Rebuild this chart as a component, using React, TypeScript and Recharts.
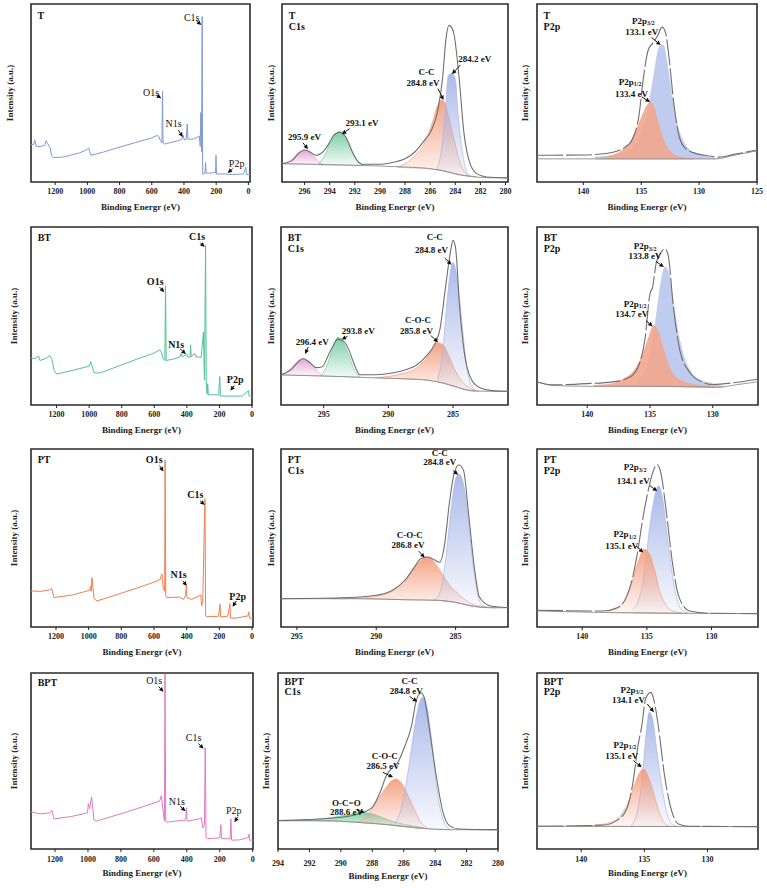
import React from 'react';
import { ComposedChart, Line, Area, XAxis, YAxis, ReferenceArea, ReferenceDot, ReferenceLine } from 'recharts';

type Pt = [number, number];
type Band = [number, number, number]; // binding energy, base, top

const SERIF = '"Liberation Serif", "DejaVu Serif", serif';

// ---------- tick labels ----------
const SURVEY_TICKS = [1200, 1000, 800, 600, 400, 200, 0];
const T_C1S_TICKS = [296, 294, 292, 290, 288, 286, 284, 282, 280];
const C1S_TICKS = [295, 290, 285];
const BPT_C1S_TICKS = [294, 292, 290, 288, 286, 284, 282, 280];
const T_P2P_TICKS = [140, 135, 130, 125];
const P2P_TICKS = [140, 135, 130];

// ---------- survey spectra ----------
const T_SURVEY: Pt[] = [
  [1350, 0.21], [1335, 0.21], [1326, 0.235], [1318, 0.2], [1290, 0.2], [1265, 0.205], [1256, 0.232], [1246, 0.215],
  [1232, 0.195], [1222, 0.15], [1210, 0.137], [1150, 0.14], [1100, 0.152], [1050, 0.163], [1000, 0.183], [992, 0.192],
  [985, 0.17], [978, 0.15], [900, 0.168], [800, 0.196], [700, 0.222], [600, 0.248], [565, 0.262], [556, 0.255],
  [546, 0.232], [537, 0.22], [533, 0.51], [530, 0.22], [522, 0.213], [480, 0.222], [440, 0.232], [415, 0.238],
  [405, 0.262], [398, 0.236], [386, 0.24], [380, 0.325], [375, 0.24], [340, 0.242], [320, 0.25], [305, 0.258],
  [299, 0.2], [296, 0.39], [291, 0.17], [287, 0.93], [284, 0.045], [270, 0.047], [266, 0.11], [262, 0.05],
  [230, 0.05], [210, 0.055], [204, 0.05], [201, 0.15], [198, 0.045], [150, 0.045], [100, 0.042], [30, 0.045],
  [16, 0.085], [12, 0.042], [-10, 0.042],
];
const BT_SURVEY: Pt[] = [
  [1357, 0.263], [1330, 0.262], [1310, 0.275], [1302, 0.25], [1270, 0.26], [1242, 0.278], [1228, 0.255], [1215, 0.193],
  [1200, 0.174], [1100, 0.195], [1000, 0.218], [990, 0.244], [969, 0.18], [934, 0.18], [800, 0.225], [700, 0.26],
  [600, 0.292], [566, 0.31], [556, 0.293], [545, 0.26], [535, 0.25], [531, 0.67], [527, 0.25], [484, 0.258],
  [445, 0.268], [435, 0.29], [428, 0.27], [400, 0.285], [395, 0.27], [380, 0.27], [377, 0.338], [373, 0.27],
  [352, 0.29], [345, 0.27], [312, 0.268], [298, 0.41], [292, 0.14], [285, 0.9], [281, 0.12], [276, 0.06],
  [272, 0.12], [268, 0.058], [240, 0.058], [205, 0.056], [198, 0.16], [194, 0.05], [150, 0.05], [60, 0.05],
  [22, 0.08], [18, 0.05], [0, 0.05],
];
const PT_SURVEY: Pt[] = [
  [1353, 0.203], [1300, 0.2], [1237, 0.208], [1227, 0.216], [1212, 0.165], [1100, 0.18], [995, 0.206], [988, 0.23],
  [984, 0.2], [980, 0.278], [967, 0.162], [950, 0.146], [800, 0.19], [700, 0.22], [600, 0.252], [562, 0.268],
  [552, 0.297], [542, 0.21], [535, 0.2], [532, 0.938], [528, 0.175], [522, 0.165], [445, 0.168], [420, 0.155],
  [408, 0.175], [402, 0.23], [398, 0.165], [370, 0.155], [323, 0.175], [313, 0.18], [309, 0.12], [302, 0.13],
  [288, 0.72], [284, 0.062], [275, 0.058], [205, 0.06], [196, 0.128], [192, 0.057], [152, 0.06], [146, 0.07],
  [135, 0.131], [132, 0.05], [100, 0.05], [25, 0.062], [20, 0.085], [15, 0.05], [-6, 0.05],
];
const BPT_SURVEY: Pt[] = [
  [1346, 0.211], [1292, 0.2], [1230, 0.205], [1220, 0.22], [1206, 0.171], [1100, 0.185], [1003, 0.205], [998, 0.259],
  [990, 0.228], [978, 0.295], [964, 0.167], [950, 0.158], [800, 0.2], [700, 0.23], [565, 0.272], [554, 0.304],
  [545, 0.224], [536, 0.16], [532, 0.995], [528, 0.16], [523, 0.152], [426, 0.163], [416, 0.158], [406, 0.176],
  [402, 0.234], [398, 0.158], [325, 0.171], [311, 0.177], [303, 0.12], [293, 0.133], [288, 0.576], [283, 0.063],
  [275, 0.059], [200, 0.063], [193, 0.139], [189, 0.059], [137, 0.058], [132, 0.171], [128, 0.05], [80, 0.052],
  [25, 0.065], [22, 0.085], [18, 0.05], [-2, 0.05],
];

// ---------- T C1s ----------
const T_C1S_BG: Pt[] = [[297.8, 0.103], [292, 0.094], [288, 0.084], [286, 0.075], [285.2, 0.066], [284.1, 0.047], [282.8, 0.032], [281.5, 0.024], [279.8, 0.023]];
const T_C1S_ENV: Pt[] = [
  [297.8, 0.103], [297, 0.12], [296.5, 0.16], [296, 0.18], [295.6, 0.17], [295.1, 0.15], [294.7, 0.16], [294.2, 0.2],
  [293.7, 0.26], [293.2, 0.28], [292.7, 0.25], [292.2, 0.17], [291.8, 0.12], [291.4, 0.1], [290, 0.1], [289, 0.11],
  [288, 0.13], [287.2, 0.17], [286.5, 0.23], [285.9, 0.29], [285.4, 0.4], [285, 0.59], [284.75, 0.8], [284.5, 0.88],
  [284.3, 0.87], [284.1, 0.83], [283.7, 0.59], [283.3, 0.27], [282.9, 0.12], [282.3, 0.047], [281.5, 0.028], [279.8, 0.023],
];
const T_C1S_PINK: Band[] = [[297.8, 0.103, 0.103], [297.3, 0.102, 0.115], [296.8, 0.1, 0.14], [296.4, 0.1, 0.168], [296, 0.099, 0.18], [295.6, 0.099, 0.17], [295.2, 0.098, 0.14], [294.8, 0.097, 0.11], [294.5, 0.097, 0.098]];
const T_C1S_GREEN: Band[] = [[294.9, 0.097, 0.1], [294.4, 0.096, 0.15], [293.9, 0.096, 0.23], [293.5, 0.095, 0.27], [293.2, 0.095, 0.28], [292.9, 0.095, 0.27], [292.5, 0.094, 0.22], [292.1, 0.094, 0.15], [291.7, 0.093, 0.11], [291.3, 0.093, 0.095]];
const T_C1S_ORANGE: Band[] = [[288.6, 0.083, 0.085], [287.8, 0.08, 0.11], [287.2, 0.079, 0.15], [286.6, 0.077, 0.2], [286.2, 0.075, 0.26], [285.8, 0.072, 0.34], [285.4, 0.068, 0.43], [285.1, 0.066, 0.46], [284.8, 0.062, 0.44], [284.5, 0.057, 0.36], [284.1, 0.048, 0.24], [283.7, 0.042, 0.13], [283.3, 0.036, 0.06], [282.8, 0.031, 0.035], [282.3, 0.027, 0.028]];
const T_C1S_BLUE: Band[] = [[285.5, 0.07, 0.07], [285.1, 0.066, 0.18], [284.8, 0.062, 0.4], [284.55, 0.058, 0.6], [284.3, 0.053, 0.61], [284, 0.047, 0.58], [283.8, 0.043, 0.4], [283.5, 0.038, 0.2], [283.2, 0.035, 0.08], [282.9, 0.03, 0.035]];

// ---------- T P2p ----------
const T_P2P_BG: Pt[] = [[144, 0.13], [135, 0.13], [128.5, 0.13], [127, 0.15], [125, 0.175]];
const T_P2P_ENV: Pt[] = [
  [144, 0.15], [140, 0.152], [138, 0.16], [137, 0.175], [136.3, 0.2], [135.8, 0.235], [135.2, 0.37], [134.8, 0.59],
  [134.4, 0.74], [134, 0.78], [133.6, 0.82], [133.2, 0.87], [132.9, 0.84], [132.6, 0.7], [132.2, 0.45], [131.7, 0.25],
  [131.2, 0.19], [130.5, 0.165], [129.5, 0.15], [128.3, 0.14], [127, 0.155], [125, 0.18],
];
const T_P2P_BLUE: Band[] = [[139, 0.13, 0.14], [137, 0.13, 0.155], [136, 0.13, 0.18], [135.2, 0.13, 0.24], [134.7, 0.13, 0.34], [134.3, 0.13, 0.45], [133.9, 0.13, 0.6], [133.6, 0.13, 0.72], [133.3, 0.13, 0.77], [133.1, 0.13, 0.77], [132.8, 0.13, 0.68], [132.5, 0.13, 0.55], [132.2, 0.13, 0.42], [131.8, 0.13, 0.3], [131.3, 0.13, 0.22], [130.6, 0.13, 0.17], [129.8, 0.13, 0.15], [128.5, 0.13, 0.13]];
const T_P2P_ORANGE: Band[] = [[138.5, 0.13, 0.135], [137.5, 0.13, 0.15], [136.6, 0.13, 0.18], [135.9, 0.13, 0.23], [135.3, 0.13, 0.31], [134.8, 0.13, 0.39], [134.4, 0.13, 0.44], [134.2, 0.13, 0.45], [133.9, 0.13, 0.42], [133.6, 0.13, 0.35], [133.2, 0.13, 0.26], [132.8, 0.13, 0.2], [132.3, 0.13, 0.16], [131.6, 0.13, 0.14], [130.5, 0.13, 0.13]];

// ---------- BT C1s ----------
const BT_C1S_BG: Pt[] = [[298.3, 0.169], [295, 0.163], [292.3, 0.156], [290, 0.15], [288.4, 0.146], [287, 0.14], [286.2, 0.13], [284.9, 0.105], [283.6, 0.08], [282, 0.077], [280.75, 0.077]];
const BT_C1S_ENV: Pt[] = [
  [298.3, 0.169], [297.5, 0.2], [297, 0.24], [296.6, 0.26], [296.1, 0.24], [295.6, 0.21], [295.1, 0.215], [294.7, 0.27],
  [294.4, 0.315], [293.9, 0.37], [293.4, 0.355], [293, 0.3], [292.7, 0.24], [292.2, 0.17], [291, 0.17], [289.7, 0.18],
  [288.6, 0.2], [287.9, 0.22], [287, 0.28], [286.5, 0.33], [286, 0.43], [285.6, 0.65], [285.2, 0.86], [285, 0.925],
  [284.8, 0.88], [284.5, 0.56], [284.1, 0.28], [283.6, 0.146], [283, 0.1], [282, 0.081], [280.75, 0.077],
];
const BT_C1S_PINK: Band[] = [[298.3, 0.169, 0.17], [297.8, 0.168, 0.19], [297.2, 0.167, 0.23], [296.6, 0.166, 0.262], [296, 0.165, 0.235], [295.5, 0.164, 0.19], [295.1, 0.163, 0.165]];
const BT_C1S_GREEN: Band[] = [[295.2, 0.163, 0.165], [294.7, 0.162, 0.23], [294.3, 0.161, 0.32], [293.9, 0.16, 0.38], [293.5, 0.16, 0.355], [293, 0.158, 0.27], [292.6, 0.157, 0.19], [292.2, 0.156, 0.16]];
const BT_C1S_ORANGE: Band[] = [[291, 0.153, 0.155], [290, 0.15, 0.16], [289, 0.148, 0.175], [288, 0.145, 0.2], [287.2, 0.141, 0.25], [286.6, 0.135, 0.31], [286.2, 0.13, 0.35], [285.8, 0.125, 0.34], [285.4, 0.117, 0.29], [285, 0.107, 0.22], [284.5, 0.095, 0.15], [284, 0.086, 0.11], [283.4, 0.079, 0.085], [283, 0.078, 0.078]];
const BT_C1S_BLUE: Band[] = [[286.2, 0.13, 0.14], [285.8, 0.125, 0.3], [285.5, 0.118, 0.55], [285.2, 0.112, 0.75], [285, 0.107, 0.8], [284.8, 0.103, 0.76], [284.5, 0.096, 0.6], [284.2, 0.09, 0.38], [283.9, 0.085, 0.2], [283.6, 0.08, 0.11], [283.3, 0.078, 0.085]];

// ---------- BT P2p ----------
const BT_P2P_BG: Pt[] = [[144, 0.13], [142.7, 0.11], [140, 0.105], [135, 0.105], [130, 0.1], [129.7, 0.099], [128, 0.115], [126.4, 0.131]];
const BT_P2P_ENV: Pt[] = [
  [144, 0.131], [142.7, 0.113], [140, 0.12], [138, 0.13], [137, 0.145], [136.3, 0.174], [135.8, 0.24], [135.4, 0.37],
  [135, 0.625], [134.8, 0.66], [134.5, 0.8], [134.1, 0.86], [133.8, 0.878], [133.55, 0.84], [133.15, 0.56], [132.6, 0.3],
  [131.8, 0.18], [130.8, 0.128], [130, 0.115], [129, 0.12], [127.7, 0.131], [126.4, 0.146],
];
const BT_P2P_BLUE: Band[] = [[136, 0.105, 0.14], [135.3, 0.105, 0.2], [134.8, 0.105, 0.35], [134.4, 0.105, 0.55], [134.1, 0.104, 0.7], [133.8, 0.104, 0.775], [133.5, 0.104, 0.74], [133.2, 0.103, 0.6], [132.8, 0.103, 0.42], [132.3, 0.102, 0.27], [131.7, 0.101, 0.18], [131, 0.1, 0.14], [130, 0.1, 0.12], [129.2, 0.1, 0.105]];
const BT_P2P_ORANGE: Band[] = [[139.5, 0.105, 0.11], [138, 0.105, 0.12], [137, 0.105, 0.15], [136.2, 0.105, 0.2], [135.6, 0.105, 0.28], [135.1, 0.105, 0.38], [134.7, 0.105, 0.446], [134.4, 0.105, 0.42], [134, 0.104, 0.33], [133.5, 0.104, 0.22], [133, 0.103, 0.16], [132.3, 0.102, 0.13], [131.5, 0.101, 0.115], [130.5, 0.1, 0.108], [129.7, 0.099, 0.1]];

// ---------- PT C1s ----------
const PT_C1S_BG: Pt[] = [[296, 0.159], [291.1, 0.159], [288, 0.153], [286.1, 0.15], [284.8, 0.135], [284, 0.118], [282.7, 0.108], [281.7, 0.108]];
const PT_C1S_ENV: Pt[] = [
  [296, 0.159], [292.2, 0.164], [290.1, 0.177], [289, 0.205], [288.2, 0.262], [287.6, 0.336], [287.2, 0.383], [286.8, 0.393],
  [286.5, 0.385], [286.2, 0.37], [286, 0.364], [285.7, 0.46], [285.4, 0.69], [285.1, 0.86], [284.8, 0.91], [284.5, 0.88],
  [284.2, 0.65], [283.8, 0.32], [283.5, 0.168], [282.9, 0.121], [282.3, 0.112], [281.7, 0.108],
];
const PT_C1S_ORANGE: Band[] = [[293, 0.159, 0.16], [291, 0.159, 0.163], [290, 0.157, 0.172], [289, 0.155, 0.2], [288.2, 0.153, 0.25], [287.6, 0.152, 0.33], [287.1, 0.151, 0.38], [286.8, 0.151, 0.393], [286.4, 0.15, 0.37], [286, 0.149, 0.32], [285.5, 0.145, 0.25], [285, 0.138, 0.2], [284.5, 0.128, 0.16], [284, 0.118, 0.13], [283.3, 0.112, 0.115], [282.5, 0.108, 0.108]];
const PT_C1S_BLUE: Band[] = [[286.4, 0.15, 0.15], [286, 0.149, 0.19], [285.6, 0.143, 0.4], [285.3, 0.14, 0.65], [285, 0.137, 0.83], [284.8, 0.135, 0.86], [284.5, 0.128, 0.8], [284.2, 0.122, 0.6], [283.9, 0.117, 0.35], [283.6, 0.113, 0.18], [283.3, 0.112, 0.12], [283, 0.11, 0.11]];

// ---------- PT P2p ----------
const PT_P2P_BG: Pt[] = [[143.5, 0.09], [137.9, 0.081], [132.8, 0.077], [126.4, 0.075]];
const PT_P2P_ENV: Pt[] = [
  [143.5, 0.094], [138.4, 0.09], [137.3, 0.108], [136.6, 0.165], [136.1, 0.278], [135.7, 0.428], [135.3, 0.615], [134.9, 0.765],
  [134.5, 0.878], [134.2, 0.912], [133.9, 0.86], [133.5, 0.65], [133, 0.35], [132.5, 0.165], [131.7, 0.09], [130.2, 0.077], [126.4, 0.075],
];
const PT_P2P_ORANGE: Band[] = [[138.1, 0.082, 0.09], [137.4, 0.081, 0.1], [136.8, 0.08, 0.14], [136.2, 0.08, 0.24], [135.7, 0.079, 0.36], [135.2, 0.079, 0.437], [134.8, 0.078, 0.41], [134.4, 0.078, 0.32], [134, 0.078, 0.2], [133.5, 0.077, 0.12], [133, 0.077, 0.09], [132.3, 0.077, 0.08]];
const PT_P2P_BLUE: Band[] = [[136.1, 0.08, 0.1], [135.6, 0.079, 0.16], [135.2, 0.079, 0.3], [134.8, 0.078, 0.55], [134.4, 0.078, 0.73], [134.1, 0.078, 0.794], [133.8, 0.077, 0.73], [133.4, 0.077, 0.5], [133, 0.077, 0.28], [132.6, 0.077, 0.14], [132.2, 0.077, 0.09], [131.8, 0.077, 0.08]];

// ---------- BPT C1s ----------
const BPT_C1S_BG: Pt[] = [[294, 0.161], [291, 0.161], [288.9, 0.151], [286.8, 0.136], [284.7, 0.117], [283.4, 0.11], [280, 0.108]];
const BPT_C1S_ENV: Pt[] = [
  [294, 0.161], [292.1, 0.167], [290, 0.18], [288.7, 0.205], [288.2, 0.223], [288, 0.237], [287.5, 0.322], [287.1, 0.417],
  [286.7, 0.464], [286.4, 0.489], [286, 0.568], [285.5, 0.701], [285.2, 0.843], [284.9, 0.886], [284.7, 0.862], [284.4, 0.701],
  [283.9, 0.398], [283.5, 0.208], [283.1, 0.133], [282.5, 0.114], [280, 0.11],
];
const BPT_C1S_GREEN: Band[] = [[293.6, 0.161, 0.161], [292, 0.16, 0.165], [290.5, 0.157, 0.18], [289.5, 0.154, 0.195], [288.6, 0.151, 0.208], [288, 0.147, 0.2], [287.4, 0.143, 0.18], [286.8, 0.136, 0.16], [286, 0.128, 0.14], [285, 0.119, 0.125], [284.7, 0.117, 0.118]];
const BPT_C1S_ORANGE: Band[] = [[289, 0.151, 0.152], [288.4, 0.148, 0.18], [287.8, 0.145, 0.26], [287.2, 0.14, 0.34], [286.8, 0.136, 0.385], [286.5, 0.133, 0.398], [286.1, 0.129, 0.37], [285.7, 0.125, 0.3], [285.3, 0.121, 0.22], [284.9, 0.118, 0.15], [284.5, 0.116, 0.12]];
const BPT_C1S_BLUE: Band[] = [[286.6, 0.134, 0.14], [286.1, 0.129, 0.25], [285.7, 0.125, 0.45], [285.3, 0.121, 0.7], [285, 0.118, 0.83], [284.8, 0.117, 0.862], [284.5, 0.115, 0.8], [284.2, 0.113, 0.6], [283.9, 0.112, 0.35], [283.6, 0.111, 0.2], [283.3, 0.11, 0.13], [283, 0.109, 0.11]];

// ---------- BPT P2p ----------
const BPT_P2P_BG: Pt[] = [[143.5, 0.129], [126, 0.127]];
const BPT_P2P_ENV: Pt[] = [
  [143.5, 0.129], [138.2, 0.136], [137.2, 0.161], [136.4, 0.227], [135.9, 0.379], [135.5, 0.587], [135.2, 0.701], [134.9, 0.852],
  [134.5, 0.89], [134.3, 0.862], [133.9, 0.701], [133.4, 0.417], [132.8, 0.208], [132.3, 0.142], [131.4, 0.129], [126, 0.127],
];
const BPT_P2P_ORANGE: Band[] = [[140.4, 0.129, 0.129], [139, 0.129, 0.135], [138, 0.129, 0.145], [137, 0.129, 0.18], [136.3, 0.128, 0.26], [135.8, 0.128, 0.36], [135.4, 0.128, 0.43], [135.1, 0.128, 0.455], [134.8, 0.128, 0.43], [134.4, 0.128, 0.35], [134, 0.128, 0.25], [133.6, 0.128, 0.17], [133.2, 0.128, 0.135], [132.9, 0.128, 0.129]];
const BPT_P2P_BLUE: Band[] = [[136.1, 0.128, 0.13], [135.6, 0.128, 0.2], [135.2, 0.128, 0.38], [134.9, 0.128, 0.62], [134.6, 0.128, 0.777], [134.3, 0.128, 0.72], [134, 0.128, 0.55], [133.6, 0.128, 0.35], [133.2, 0.128, 0.2], [132.8, 0.128, 0.14], [132.3, 0.128, 0.128]];

// ---------- styling ----------
const PINK = '#e49ed2';
const GREEN = '#77cca2';
const ORANGE = '#f39f7f';
const BLUE = '#a6b6e8';
const ENV = '#6f6f6f';
const BGL = '#8d8d8d';

interface Box { cx: number; cy: number; w: number; h: number; px1: number; px2: number; py1: number; py2: number }
interface LineS { data: Pt[]; color: string; width: number; curve: 'linear' | 'monotone'; dash?: string }
interface BandS { data: Band[]; color: string; solid?: boolean }
interface Note { t: string; fx: number; fy: number; sub?: string; start?: boolean; bold?: boolean; size?: number }
interface PanelCfg {
  id: string; box: Box; domain: [number, number]; ticks: number[];
  yTitleX: number; xTitleBase: number; tickMargin: number;
  bands: BandS[]; lines: LineS[]; notes: Note[]; arrows: number[][];
}

const survey = (data: Pt[], color: string): LineS[] => [{ data, color, width: 1, curve: 'linear' }];
const fit = (bg: Pt[], env: Pt[], dash?: string): LineS[] => [
  { data: bg, color: BGL, width: 0.9, curve: 'monotone' },
  { data: env, color: ENV, width: 1.1, curve: 'monotone', dash },
];
const head = (t: string, sub: string, fy = 0.935): Note[] => [
  { t, fx: 0.03, fy, start: true, bold: true, size: 10 },
  ...(sub ? [{ t: sub, fx: 0.03, fy: fy - 0.06, start: true, bold: true, size: 10 }] : []),
];
const peak = (t: string, fx: number, fy: number, bold = true): Note => ({ t, fx, fy, bold, size: 10 });
const lab = (t: string, fx: number, fy: number, sub?: string): Note => ({ t, fx, fy, sub, bold: true, size: 9 });

const PANELS: PanelCfg[] = [
  {
    id: 'p1', box: { cx: 0, cy: 0, w: 258, h: 220, px1: 31, px2: 250, py1: 4, py2: 182 },
    domain: [-10, 1350], ticks: SURVEY_TICKS, yTitleX: 10, xTitleBase: 210, tickMargin: 3,
    bands: [], lines: survey(T_SURVEY, '#7f9ad6'),
    notes: [...head('T', ''), peak('C1s', 0.734, 0.925, false), peak('O1s', 0.548, 0.501, false), peak('N1s', 0.651, 0.328, false), peak('P2p', 0.939, 0.103, false)],
    arrows: [[0.756, 0.905, 0.778, 0.882], [0.574, 0.486, 0.595, 0.47], [0.673, 0.291, 0.693, 0.253], [0.921, 0.075, 0.898, 0.051]],
  },
  {
    id: 'p2', box: { cx: 258, cy: 0, w: 254, h: 220, px1: 282, px2: 508, py1: 4, py2: 182 },
    domain: [279.8, 297.8], ticks: T_C1S_TICKS, yTitleX: 271, xTitleBase: 210, tickMargin: 3,
    bands: [{ data: T_C1S_PINK, color: PINK }, { data: T_C1S_GREEN, color: GREEN }, { data: T_C1S_ORANGE, color: ORANGE }, { data: T_C1S_BLUE, color: BLUE }],
    lines: fit(T_C1S_BG, T_C1S_ENV),
    notes: [...head('T', 'C1s'), lab('295.9 eV', 0.1, 0.253), lab('293.1 eV', 0.354, 0.332), lab('C-C', 0.639, 0.619), lab('284.8 eV', 0.624, 0.557), lab('284.2 eV', 0.853, 0.689)],
    arrows: [[0.093, 0.22, 0.115, 0.184], [0.299, 0.3, 0.265, 0.268], [0.69, 0.525, 0.715, 0.46], [0.789, 0.657, 0.752, 0.606]],
  },
  {
    id: 'p3', box: { cx: 512, cy: 0, w: 255, h: 220, px1: 537, px2: 757, py1: 4, py2: 182 },
    domain: [125, 144], ticks: T_P2P_TICKS, yTitleX: 525, xTitleBase: 210, tickMargin: 3,
    bands: [{ data: T_P2P_BLUE, color: '#b9c5ee', solid: true }, { data: T_P2P_ORANGE, color: '#f2a68c', solid: true }],
    lines: fit(T_P2P_BG, T_P2P_ENV, '26 3'),
    notes: [...head('T', 'P2p'), lab('P2p', 0.483, 0.906, '3/2'), lab('133.1 eV', 0.476, 0.841), lab('P2p', 0.423, 0.563, '1/2'), lab('133.4 eV', 0.43, 0.497)],
    arrows: [[0.521, 0.812, 0.562, 0.769], [0.476, 0.478, 0.514, 0.45]],
  },
  {
    id: 'p4', box: { cx: 0, cy: 222, w: 258, h: 222, px1: 31, px2: 252, py1: 227, py2: 405 },
    domain: [0, 1357], ticks: SURVEY_TICKS, yTitleX: 14, xTitleBase: 433, tickMargin: 3,
    bands: [], lines: survey(BT_SURVEY, '#52c29a'),
    notes: [...head('BT', '', 0.94), peak('C1s', 0.751, 0.944), peak('O1s', 0.562, 0.694), peak('N1s', 0.657, 0.338), peak('P2p', 0.924, 0.146)],
    arrows: [[0.766, 0.912, 0.785, 0.887], [0.582, 0.662, 0.603, 0.634], [0.675, 0.315, 0.701, 0.287], [0.92, 0.109, 0.902, 0.081]],
  },
  {
    id: 'p5', box: { cx: 258, cy: 222, w: 254, h: 222, px1: 281, px2: 508, py1: 227, py2: 405 },
    domain: [280.75, 298.3], ticks: C1S_TICKS, yTitleX: 271, xTitleBase: 433, tickMargin: 3,
    bands: [{ data: BT_C1S_PINK, color: PINK }, { data: BT_C1S_GREEN, color: GREEN }, { data: BT_C1S_ORANGE, color: ORANGE }, { data: BT_C1S_BLUE, color: BLUE }],
    lines: fit(BT_C1S_BG, BT_C1S_ENV),
    notes: [...head('BT', 'C1s', 0.94), lab('C-C', 0.677, 0.944), lab('284.8 eV', 0.663, 0.869), lab('C-O-C', 0.604, 0.478), lab('285.8 eV', 0.597, 0.418), lab('293.8 eV', 0.34, 0.418), lab('296.4 eV', 0.138, 0.353)],
    arrows: [[0.721, 0.826, 0.751, 0.788], [0.66, 0.39, 0.692, 0.353], [0.293, 0.386, 0.267, 0.368], [0.12, 0.325, 0.106, 0.287]],
  },
  {
    id: 'p6', box: { cx: 512, cy: 222, w: 255, h: 222, px1: 537, px2: 758, py1: 227, py2: 405 },
    domain: [126.4, 144], ticks: P2P_TICKS, yTitleX: 525, xTitleBase: 433, tickMargin: 3,
    bands: [{ data: BT_P2P_BLUE, color: '#b9c5ee', solid: true }, { data: BT_P2P_ORANGE, color: '#f2a68c', solid: true }],
    lines: fit(BT_P2P_BG, BT_P2P_ENV, '26 3'),
    notes: [...head('BT', 'P2p', 0.94), lab('P2p', 0.489, 0.893, '3/2'), lab('133.8 eV', 0.489, 0.837), lab('P2p', 0.444, 0.568, '1/2'), lab('134.7 eV', 0.429, 0.512)],
    arrows: [[0.538, 0.807, 0.574, 0.775], [0.493, 0.475, 0.523, 0.441]],
  },
  {
    id: 'p7', box: { cx: 0, cy: 444, w: 258, h: 222, px1: 31, px2: 253, py1: 449, py2: 627 },
    domain: [-6, 1353], ticks: SURVEY_TICKS, yTitleX: 14, xTitleBase: 655, tickMargin: 3,
    bands: [], lines: survey(PT_SURVEY, '#f37e4f'),
    notes: [...head('PT', '', 0.94), peak('O1s', 0.555, 0.94), peak('C1s', 0.74, 0.747), peak('N1s', 0.665, 0.293), peak('P2p', 0.931, 0.174)],
    arrows: [[0.579, 0.906, 0.597, 0.874], [0.762, 0.709, 0.782, 0.685], [0.684, 0.259, 0.702, 0.231], [0.925, 0.146, 0.908, 0.114]],
  },
  {
    id: 'p8', box: { cx: 258, cy: 444, w: 254, h: 222, px1: 281, px2: 508, py1: 449, py2: 627 },
    domain: [281.7, 296], ticks: C1S_TICKS, yTitleX: 271, xTitleBase: 655, tickMargin: 3,
    bands: [{ data: PT_C1S_ORANGE, color: ORANGE }, { data: PT_C1S_BLUE, color: BLUE }],
    lines: fit(PT_C1S_BG, PT_C1S_ENV),
    notes: [...head('PT', 'C1s', 0.94), lab('C-C', 0.699, 0.98), lab('284.8 eV', 0.699, 0.925), lab('C-O-C', 0.567, 0.518), lab('286.8 eV', 0.56, 0.458)],
    arrows: [[0.758, 0.879, 0.78, 0.856], [0.607, 0.426, 0.633, 0.389]],
  },
  {
    id: 'p9', box: { cx: 512, cy: 444, w: 255, h: 222, px1: 537, px2: 758, py1: 449, py2: 627 },
    domain: [126.4, 143.5], ticks: P2P_TICKS, yTitleX: 525, xTitleBase: 655, tickMargin: 3,
    bands: [{ data: PT_P2P_BLUE, color: BLUE }, { data: PT_P2P_ORANGE, color: ORANGE }],
    lines: fit(PT_P2P_BG, PT_P2P_ENV, '26 3'),
    notes: [...head('PT', 'P2p', 0.94), lab('P2p', 0.444, 0.897, '3/2'), lab('134.1 eV', 0.436, 0.822), lab('P2p', 0.398, 0.522, '1/2'), lab('135.1 eV', 0.383, 0.456)],
    arrows: [[0.511, 0.794, 0.544, 0.762], [0.448, 0.456, 0.481, 0.418]],
  },
  {
    id: 'p10', box: { cx: 0, cy: 666, w: 258, h: 222, px1: 31, px2: 253, py1: 673, py2: 849 },
    domain: [-2, 1346], ticks: SURVEY_TICKS, yTitleX: 14, xTitleBase: 876, tickMargin: 4,
    bands: [], lines: survey(BPT_SURVEY, '#e07ac4'),
    notes: [...head('BPT', '', 0.947), peak('O1s', 0.555, 0.956, false), peak('C1s', 0.732, 0.633, false), peak('N1s', 0.657, 0.272, false), peak('P2p', 0.913, 0.221, false)],
    arrows: [[0.574, 0.924, 0.597, 0.894], [0.755, 0.599, 0.777, 0.57], [0.672, 0.243, 0.696, 0.215], [0.931, 0.183, 0.917, 0.152]],
  },
  {
    id: 'p11', box: { cx: 258, cy: 666, w: 254, h: 222, px1: 278, px2: 498, py1: 673, py2: 849 },
    domain: [280, 294], ticks: BPT_C1S_TICKS, yTitleX: 266, xTitleBase: 879, tickMargin: 8,
    bands: [{ data: BPT_C1S_GREEN, color: GREEN }, { data: BPT_C1S_ORANGE, color: ORANGE }, { data: BPT_C1S_BLUE, color: BLUE }],
    lines: fit(BPT_C1S_BG, BPT_C1S_ENV),
    notes: [...head('BPT', 'C1s', 0.953), lab('C-C', 0.598, 0.956), lab('284.8 eV', 0.583, 0.9), lab('C-O-C', 0.485, 0.53), lab('286.5 eV', 0.477, 0.473), lab('O-C=O', 0.311, 0.261), lab('288.6 eV', 0.311, 0.208)],
    arrows: [[0.598, 0.867, 0.633, 0.837], [0.477, 0.436, 0.523, 0.407], [0.356, 0.223, 0.394, 0.208]],
  },
  {
    id: 'p12', box: { cx: 512, cy: 666, w: 255, h: 222, px1: 537, px2: 758, py1: 673, py2: 849 },
    domain: [126, 143.5], ticks: P2P_TICKS, yTitleX: 525, xTitleBase: 876, tickMargin: 4,
    bands: [{ data: BPT_P2P_BLUE, color: BLUE }, { data: BPT_P2P_ORANGE, color: ORANGE }],
    lines: fit(BPT_P2P_BG, BPT_P2P_ENV, '26 3'),
    notes: [...head('BPT', 'P2p', 0.953), lab('P2p', 0.429, 0.905, '3/2'), lab('134.1 eV', 0.414, 0.848), lab('P2p', 0.398, 0.591, '1/2'), lab('135.1 eV', 0.383, 0.53)],
    arrows: [[0.499, 0.824, 0.529, 0.777], [0.436, 0.502, 0.474, 0.464]],
  },
];

const toLine = (pts: Pt[]) => pts.map(([x, y]) => ({ x, y }));
const toBand = (pts: Band[]) => pts.map(([x, lo, hi]) => ({ x, lo, hi }));

const arrowShape = (p: any) => {
  const { x1, y1, x2, y2 } = p;
  const dx = x2 - x1;
  const dy = y2 - y1;
  const len = Math.hypot(dx, dy) || 1;
  const ux = dx / len;
  const uy = dy / len;
  const hl = 4.5;
  const hw = 2.2;
  const bx = x2 - ux * hl;
  const by = y2 - uy * hl;
  return (
    <g>
      <line x1={x1} y1={y1} x2={bx} y2={by} stroke="#111" strokeWidth={1} />
      <polygon points={`${x2},${y2} ${bx - uy * hw},${by + ux * hw} ${bx + uy * hw},${by - ux * hw}`} fill="#111" />
    </g>
  );
};

const noteShape = (n: Note) => (p: any) => (
  <text
    x={p.cx}
    y={p.cy}
    textAnchor={n.start ? 'start' : 'middle'}
    dominantBaseline="central"
    fontFamily={SERIF}
    fontSize={n.size ?? 9}
    fontWeight={n.bold ? 700 : 400}
    fill="#111"
  >
    {n.t}
    {n.sub && (
      <tspan fontSize={6} dy={2.5}>
        {n.sub}
      </tspan>
    )}
  </text>
);

function Panel({ cfg }: { cfg: PanelCfg }) {
  const { box, domain } = cfg;
  const [dmin, dmax] = domain;
  const atX = (f: number) => dmax - f * (dmax - dmin);
  const xH = box.cy + box.h - box.py2;
  return (
    <div style={{ position: 'absolute', left: box.cx, top: box.cy }}>
      <ComposedChart
        width={box.w}
        height={box.h}
        margin={{ top: box.py1 - box.cy, right: box.cx + box.w - box.px2, bottom: 0, left: 0 }}
      >
        <defs>
          {cfg.bands.map((b, i) => (
            <linearGradient key={i} id={`${cfg.id}-g${i}`} x1="0" y1="0" x2="0" y2="1">
              <stop offset="0%" stopColor={b.color} stopOpacity={0.95} />
              <stop offset="100%" stopColor={b.color} stopOpacity={0.08} />
            </linearGradient>
          ))}
        </defs>
        <XAxis
          type="number"
          dataKey="x"
          domain={domain}
          reversed
          allowDataOverflow
          ticks={cfg.ticks}
          interval={0}
          height={xH}
          tickSize={3}
          tickMargin={cfg.tickMargin}
          axisLine={false}
          stroke="#222"
          tick={{ fontSize: 8, fontWeight: 700, fill: '#222', fontFamily: SERIF }}
          label={{
            value: 'Binding Energr (eV)',
            position: 'insideBottom',
            offset: box.cy + box.h - cfg.xTitleBase,
            fill: '#222',
            fontSize: 9,
            fontWeight: 700,
            fontFamily: SERIF,
          }}
        />
        <YAxis
          type="number"
          domain={[0, 1]}
          allowDataOverflow
          width={box.px1 - box.cx}
          tick={false}
          tickLine={false}
          axisLine={false}
          label={{
            value: 'Intensity (a.u.)',
            angle: -90,
            position: 'insideLeft',
            offset: cfg.yTitleX - box.cx,
            fill: '#222',
            fontSize: 9,
            fontWeight: 700,
            fontFamily: SERIF,
            style: { textAnchor: 'middle' },
          }}
        />
        {cfg.bands.map((b, i) => (
          <Area
            key={`b${i}`}
            data={toBand(b.data)}
            dataKey={(d: any) => [d.lo, d.hi]}
            type="monotone"
            stroke={b.color}
            strokeWidth={0.7}
            fill={b.solid ? b.color : `url(#${cfg.id}-g${i})`}
            fillOpacity={b.solid ? 0.9 : 1}
            dot={false}
            activeDot={false}
            isAnimationActive={false}
          />
        ))}
        {cfg.lines.map((l, i) => (
          <Line
            key={`l${i}`}
            data={toLine(l.data)}
            dataKey="y"
            type={l.curve}
            stroke={l.color}
            strokeWidth={l.width}
            strokeDasharray={l.dash}
            dot={false}
            activeDot={false}
            isAnimationActive={false}
          />
        ))}
        <ReferenceArea x1={dmin} x2={dmax} y1={0} y2={1} fill="none" stroke="#2a2a2a" strokeWidth={1.6} ifOverflow="visible" />
        {cfg.arrows.map((a, i) => (
          <ReferenceLine
            key={`a${i}`}
            segment={[{ x: atX(a[0]), y: a[1] }, { x: atX(a[2]), y: a[3] }]}
            shape={arrowShape}
            ifOverflow="visible"
          />
        ))}
        {cfg.notes.map((n, i) => (
          <ReferenceDot key={`n${i}`} x={atX(n.fx)} y={n.fy} r={1} shape={noteShape(n)} ifOverflow="visible" />
        ))}
      </ComposedChart>
    </div>
  );
}

export default function App() {
  return (
    <div style={{ position: 'absolute', left: 0, top: 0, width: 767, height: 888, background: '#fff', fontFamily: SERIF }}>
      {PANELS.map((p) => (
        <Panel key={p.id} cfg={p} />
      ))}
    </div>
  );
}
